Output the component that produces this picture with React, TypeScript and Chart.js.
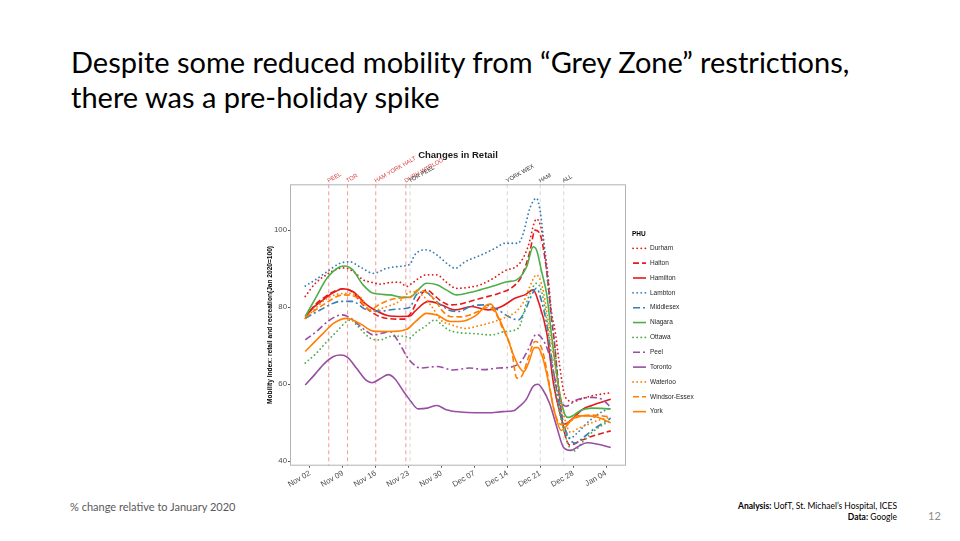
import React, { useEffect, useRef } from 'react';
import { Chart, registerables } from 'chart.js';

Chart.register(...registerables);

// x values: days since Nov 01 2020
const xTickDays = [1, 8, 15, 22, 29, 36, 43, 50, 57, 64];
const xTickLabels = ['Nov 02', 'Nov 09', 'Nov 16', 'Nov 23', 'Nov 30', 'Dec 07', 'Dec 14', 'Dec 21', 'Dec 28', 'Jan 04'];
const yTickValues = [40, 60, 80, 100];

const eventDays = [5, 9, 15, 21.4, 22.3, 43, 50, 55];
const eventLabels = ['PEEL', 'TOR', 'HAM YORK HALT', 'DURH WTRLOO', 'TOR PEEL', 'YORK WEX', 'HAM', 'ALL'];
const eventIsRed = [true, true, true, true, false, false, false, false];

const phuNames = ['Durham', 'Halton', 'Hamilton', 'Lambton', 'Middlesex', 'Niagara', 'Ottawa', 'Peel', 'Toronto', 'Waterloo', 'Windsor-Essex', 'York'];

const durham: [number, number][] = [[0, 82.8], [2, 86], [4.6, 88.5], [7, 90], [8.5, 90.2], [10.5, 89], [12.3, 87.1], [14, 86.5], [16, 86], [18, 86.4], [20, 86.5], [21.6, 85.4], [23, 86.5], [25.8, 88.4], [28, 88.4], [30, 86.5], [32.2, 84.9], [35, 85.2], [37.2, 85.8], [40, 87.5], [42.9, 89.7], [44.3, 90.1], [46, 92], [47.4, 95.7], [49.2, 102.9], [50.2, 100.5], [51, 94.4], [51.7, 87.5], [52.4, 78.9], [53.2, 73.5], [54, 66], [55.3, 56.8], [57, 55.5], [59, 56.3], [61, 57], [65, 57.8]];
const halton: [number, number][] = [[0, 77], [2, 80.5], [4, 82.5], [6, 84], [8.1, 84.8], [10, 84], [12, 81], [14, 78.8], [16, 77.5], [18, 77], [20.9, 76.9], [22.5, 78.5], [24, 82], [25.8, 84.5], [27.5, 83], [29, 81.5], [30.8, 80.6], [33, 80.8], [35, 81.5], [38, 82.5], [41, 83.5], [44.3, 85.4], [46, 88], [47.8, 94.4], [48.9, 100], [50, 98.8], [51, 92.7], [51.7, 85.8], [52.4, 77.1], [53, 71], [54, 58], [55, 48.5], [56.3, 44.2], [58.8, 45.5], [61, 46.5], [65, 47.9]];
const hamilton: [number, number][] = [[0, 77.6], [1.8, 80], [3.8, 81.9], [6, 83.8], [8.1, 84.8], [10.2, 84], [13.1, 80.6], [15.2, 79], [18, 77.7], [20, 77.6], [22.3, 77.7], [23.3, 78.9], [26.2, 81.5], [29, 80.6], [31.9, 79.3], [35.4, 80.2], [38.9, 79.3], [41.8, 80.2], [44.6, 82.3], [46.7, 83.2], [48.5, 84.5], [49.6, 81.5], [51.4, 73.2], [52.8, 60.3], [54.2, 52.5], [55, 49.6], [57, 51.2], [59, 53.5], [61, 54.5], [65, 56.1]];
const lambton: [number, number][] = [[0, 85.5], [2, 87], [4.6, 89.2], [7.4, 91.4], [9.5, 91.8], [11.6, 90.5], [14.5, 88.8], [17.3, 90.1], [20.9, 90.7], [22.3, 91.2], [23.3, 93.6], [25.8, 94.9], [28, 93.6], [30.5, 91], [31.9, 90.1], [34, 91.8], [37.5, 93.6], [40.4, 95.3], [42.5, 96.6], [45.3, 96.6], [46.4, 99.2], [47.8, 105.7], [49.2, 108.3], [50, 104.8], [50.6, 98.8], [51.3, 90.1], [52, 81.5], [52.8, 73.7], [53.7, 62], [54.5, 52.5], [56.3, 46], [58, 47.5], [60, 50], [62, 52], [65, 54]];
const middlesex: [number, number][] = [[0, 77.1], [2, 78.5], [3.8, 79.7], [5.5, 80.8], [7.4, 81.5], [10, 81.5], [13.1, 79.3], [15.9, 79], [19.4, 79.5], [22.3, 80], [23.5, 83], [25.5, 84], [27.5, 81.9], [30.5, 79.3], [32.6, 78.9], [35.4, 80.3], [38.2, 80.6], [41, 79.3], [43.2, 77.6], [45.3, 76.7], [46.7, 78.9], [48.2, 83.2], [49.2, 84.9], [50.3, 81.5], [51.4, 75.4], [52.5, 66], [53.7, 57], [54.9, 49.9], [57.4, 44.7], [59, 46], [61, 48], [65, 51.2]];
const niagara: [number, number][] = [[0, 77.6], [2.4, 82.8], [4.6, 87.5], [7.4, 90.5], [8.4, 90.7], [10, 89.8], [12.3, 85.8], [14.5, 83.6], [18, 83.2], [20.5, 82.6], [22.3, 82.6], [24, 84.5], [25.8, 86.2], [28, 85.8], [30, 84.5], [32.2, 83.2], [35, 83.8], [37.2, 84.5], [40, 85.5], [42.9, 86.6], [45, 87.1], [47.1, 90.5], [48.5, 95.7], [49.2, 94.9], [50.3, 89.2], [51.4, 83.2], [52, 77.1], [52.4, 72.8], [53.9, 59.4], [55.3, 52], [56, 51.4], [58.8, 53.3], [61, 53.8], [65, 53.6]];
const ottawa: [number, number][] = [[0, 65.5], [2.4, 68.1], [4.6, 71.1], [6.7, 73.7], [8.8, 76.3], [9.8, 76.7], [10.9, 75.4], [13.8, 72], [15.9, 71.5], [18, 72.4], [20.9, 72.5], [22.3, 72], [23.3, 73.2], [25.5, 75], [27.6, 76.7], [29, 75.5], [30.5, 74.1], [32.6, 73.4], [35.4, 73.2], [39.6, 72.8], [42.5, 73.7], [45.3, 74.5], [47.4, 82.3], [49.2, 86.2], [50.3, 84], [51.5, 76], [52.5, 66], [53.5, 57], [55, 48], [57, 42.6], [59, 45], [61, 47.5], [65, 50.7]];
const peel: [number, number][] = [[0, 71.5], [2.4, 73.7], [5, 76.5], [7.7, 78], [9.5, 77.3], [11, 75.8], [13, 73.8], [14.5, 72.8], [16.5, 73.3], [18, 73.7], [19.8, 71.1], [21.6, 67.2], [23, 65.2], [24.5, 64.2], [28, 64.6], [31.5, 63.7], [35, 64.2], [38, 63.8], [41, 64.2], [44.3, 64.6], [46, 66], [47.4, 68.9], [49.2, 73], [50.6, 71.5], [51.7, 68.5], [53, 62], [54.5, 55.5], [55.5, 54.3], [57.7, 55.9], [61, 56.6], [63.4, 55.9], [65, 54]];
const toronto: [number, number][] = [[0, 59.8], [2, 62.5], [4, 65.3], [6, 67.2], [7.5, 67.6], [9, 67], [11, 64], [13, 61], [14.2, 60.4], [16, 61.5], [17.7, 62.5], [19, 61.5], [21, 58], [22.5, 55.5], [24, 53.6], [26, 53.8], [28, 54.5], [30, 53.4], [33, 52.8], [36, 52.6], [39, 52.6], [42, 52.9], [44.3, 53.1], [45.5, 54.2], [47, 56], [48.5, 59.5], [49.5, 60], [50.5, 58.7], [52, 55], [53.5, 49], [55, 43.5], [56.5, 42.8], [58, 43.8], [60, 44.8], [62, 44.5], [65, 43.6]];
const waterloo: [number, number][] = [[0, 77.1], [2, 79.5], [4.6, 82.3], [8.8, 83.6], [11.6, 82.8], [14, 79], [17, 80], [20, 81.5], [22.5, 84], [25, 83], [27, 80], [29, 76.5], [31, 75.5], [34, 74.5], [37, 75.2], [40, 76.2], [43, 77.6], [45, 79], [46.5, 81.5], [48, 86], [49.2, 88.4], [50.5, 85], [52, 74], [53.5, 62], [55, 52], [56.5, 47.5], [58, 48.5], [60, 49.5], [62, 50.5], [65, 51.5]];
const windsorEssex: [number, number][] = [[0, 77.4], [3.8, 80.6], [8.1, 83.2], [10.9, 82.6], [13.8, 79.3], [15.9, 80.8], [19.4, 82.3], [22.3, 82.6], [24, 84.5], [25.5, 84], [27.6, 81.9], [29, 79.3], [30.8, 77.6], [33, 77.5], [35, 78], [37.5, 79.3], [39, 80], [40.5, 78.5], [41.8, 75], [43.9, 68.9], [45, 61.6], [46, 62], [47.5, 67], [48.9, 71.1], [50.3, 69.4], [51.5, 63], [53, 53], [54.5, 49.5], [56.5, 50.5], [58, 51.5], [61, 52], [65, 51.5]];
const york: [number, number][] = [[0, 68.5], [2, 71], [3.8, 73.2], [6, 75.8], [8.8, 77.1], [11.6, 75.8], [14.5, 73.8], [18, 73.7], [21.6, 74.3], [23.5, 76.3], [25.8, 78.4], [28, 78], [30.8, 76.3], [32.9, 76.3], [36.5, 78], [38.6, 80.6], [39.5, 80.8], [40.7, 78.4], [42.9, 72.4], [44.3, 67.6], [45.5, 64.5], [46.5, 63.3], [47.5, 65.5], [48.8, 69.5], [49.5, 69.5], [50.5, 67], [51.5, 62], [53, 53], [54.5, 48], [55.5, 49], [56.5, 50.5], [58, 51.8], [60, 51.8], [62, 51.5], [65, 50]];

const phuSeries = [durham, halton, hamilton, lambton, middlesex, niagara, ottawa, peel, toronto, waterloo, windsorEssex, york];

const RED = '#E41A1C';
const BLUE = '#377EB8';
const GREEN = '#4DAF4A';
const PURPLE = '#984EA3';
const ORANGE = '#FF7F00';
const phuColors = [RED, RED, RED, BLUE, BLUE, GREEN, GREEN, PURPLE, PURPLE, ORANGE, ORANGE, ORANGE];
const phuLineTypes = ['dotted', 'dashed', 'solid', 'dotted', 'dashdot', 'solid', 'dotted', 'dashdot', 'solid', 'dotted', 'dashed', 'solid'];

const FONT = '"Liberation Sans", Arial, Helvetica, sans-serif';
const SLIDE_FONT = 'Lato, "Open Sans", sans-serif';

function dashFor(t: string): number[] {
  if (t === 'dotted') return [0.1, 4];
  if (t === 'dashed') return [6, 3];
  if (t === 'dashdot') return [7, 3, 2, 3];
  return [];
}

const decorPlugin = {
  id: 'decor',
  beforeDatasetsDraw(chart: any) {
    const { ctx, chartArea: a, scales } = chart;
    const x = scales.x;
    ctx.save();
    eventDays.forEach((d, i) => {
      const px = x.getPixelForValue(d);
      ctx.strokeStyle = eventIsRed[i] ? 'rgba(228,26,28,0.45)' : 'rgba(185,185,185,0.55)';
      ctx.lineWidth = 1;
      ctx.setLineDash([4, 3]);
      ctx.beginPath();
      ctx.moveTo(px, a.top);
      ctx.lineTo(px, a.bottom);
      ctx.stroke();
    });
    ctx.restore();
  },
  afterDraw(chart: any) {
    const { ctx, chartArea: a, scales } = chart;
    const x = scales.x;
    ctx.save();
    // panel border
    ctx.strokeStyle = '#b3b3b3';
    ctx.lineWidth = 1;
    ctx.setLineDash([]);
    ctx.strokeRect(a.left + 0.5, a.top + 0.5, a.right - a.left - 1, a.bottom - a.top - 1);
    // event labels
    ctx.font = '5.8px ' + FONT;
    ctx.textAlign = 'left';
    ctx.textBaseline = 'alphabetic';
    eventDays.forEach((d, i) => {
      const px = x.getPixelForValue(d);
      ctx.save();
      ctx.translate(px, a.top - 1.5);
      ctx.rotate(-Math.PI / 6);
      ctx.fillStyle = eventIsRed[i] ? '#DC4446' : '#333333';
      ctx.fillText(eventLabels[i], 0, 0);
      ctx.restore();
    });
    // legend
    const cy = (a.top + a.bottom) / 2;
    const lx = a.right + 6;
    ctx.textBaseline = 'middle';
    ctx.fillStyle = '#000';
    ctx.font = 'bold 6.5px ' + FONT;
    ctx.fillText('PHU', lx, cy - 90.7);
    chart.data.datasets.forEach((ds: any, i: number) => {
      const y = cy - 76.7 + i * 14.85;
      ctx.strokeStyle = ds.borderColor;
      ctx.lineWidth = ds.borderWidth;
      ctx.lineCap = ds.borderCapStyle || 'butt';
      ctx.setLineDash(ds.borderDash || []);
      ctx.beginPath();
      ctx.moveTo(lx + 1, y);
      ctx.lineTo(lx + 14, y);
      ctx.stroke();
      ctx.fillStyle = '#262626';
      ctx.font = '6.5px ' + FONT;
      ctx.fillText(ds.label, lx + 18, y);
    });
    ctx.restore();
  },
};

function RetailChart() {
  const ref = useRef<HTMLCanvasElement | null>(null);
  useEffect(() => {
    if (!ref.current) return;
    const datasets = phuNames.map((name, i) => {
      const lt = phuLineTypes[i];
      return {
        label: name,
        data: phuSeries[i].map(([d, v]) => ({ x: d, y: v })),
        borderColor: phuColors[i],
        backgroundColor: phuColors[i],
        borderWidth: lt === 'dotted' ? 1.8 : 1.6,
        borderDash: dashFor(lt),
        borderCapStyle: lt === 'dotted' ? 'round' : 'butt',
        pointRadius: 0,
        fill: false,
        cubicInterpolationMode: 'monotone',
        order: phuNames.length - 1 - i,
      };
    });
    const chart = new Chart(ref.current, {
      type: 'line',
      data: { datasets } as any,
      options: {
        animation: false,
        responsive: false,
        maintainAspectRatio: false,
        layout: { padding: { left: 0, right: 84, top: 0, bottom: 0 } },
        plugins: {
          legend: { display: false },
          tooltip: { enabled: false },
          title: {
            display: true,
            text: 'Changes in Retail',
            fullSize: false,
            color: '#1a1a1a',
            font: { family: FONT, size: 9.5, weight: 'bold' },
            padding: { top: 9.3, bottom: 23.6 },
          },
        },
        scales: {
          x: {
            type: 'linear',
            min: -3.25,
            max: 68.25,
            afterBuildTicks: (s: any) => {
              s.ticks = xTickDays.map((v) => ({ value: v }));
            },
            afterFit: (s: any) => {
              s.height = 34.3;
            },
            ticks: {
              autoSkip: false,
              maxRotation: 30,
              minRotation: 30,
              padding: 1,
              color: '#4d4d4d',
              font: { family: FONT, size: 7.8 },
              callback: (v: any) => {
                const idx = xTickDays.indexOf(Number(v));
                return idx >= 0 ? xTickLabels[idx] : '';
              },
            },
            grid: { display: true, drawOnChartArea: false, drawTicks: true, tickLength: 2, color: '#555' },
            border: { display: false },
          },
          y: {
            type: 'linear',
            min: 38.86,
            max: 111.9,
            afterBuildTicks: (s: any) => {
              s.ticks = yTickValues.map((v) => ({ value: v }));
            },
            afterFit: (s: any) => {
              s.width = 40;
            },
            ticks: {
              padding: 1,
              color: '#4d4d4d',
              font: { family: FONT, size: 7.8 },
              callback: (v: any) => String(v),
            },
            grid: { display: true, drawOnChartArea: false, drawTicks: true, tickLength: 2, color: '#555' },
            border: { display: false },
            title: {
              display: true,
              text: 'Mobility Index: retail and recreation(Jan 2020=100)',
              color: '#000',
              font: { family: FONT, size: 6.6, weight: 'bold' },
              padding: { top: 16, bottom: 0 },
            },
          },
        },
      } as any,
      plugins: [decorPlugin],
    });
    return () => chart.destroy();
  }, []);
  return <canvas ref={ref} width={460} height={360} style={{ position: 'absolute', left: 250, top: 140, width: 460, height: 360 }} />;
}

export default function App() {
  return (
    <div style={{ position: 'absolute', left: 0, top: 0, width: 960, height: 541, background: '#fff', overflow: 'hidden' }}>
      <div
        style={{
          position: 'absolute',
          left: 71,
          top: 44,
          fontFamily: SLIDE_FONT,
          fontSize: 29,
          lineHeight: '35px',
          color: '#000',
          whiteSpace: 'nowrap',
        }}
      >
        Despite some reduced mobility from “Grey Zone” restrictions,
        <br />
        there was a pre-holiday spike
      </div>
      <RetailChart />
      <div style={{ position: 'absolute', left: 70, top: 499, fontFamily: SLIDE_FONT, fontSize: 11, lineHeight: '16px', color: '#595959', whiteSpace: 'nowrap' }}>
        % change relative to January 2020
      </div>
      <div style={{ position: 'absolute', right: 63, top: 501, fontFamily: SLIDE_FONT, fontSize: 8.5, lineHeight: '11px', color: '#000', textAlign: 'right', whiteSpace: 'nowrap' }}>
        <div>
          <b>Analysis:</b> UofT, St. Michael’s Hospital, ICES
        </div>
        <div>
          <b>Data:</b> Google
        </div>
      </div>
      <div style={{ position: 'absolute', left: 928, top: 508, fontFamily: SLIDE_FONT, fontSize: 11, lineHeight: '16px', color: '#8c8c8c' }}>12</div>
    </div>
  );
}
